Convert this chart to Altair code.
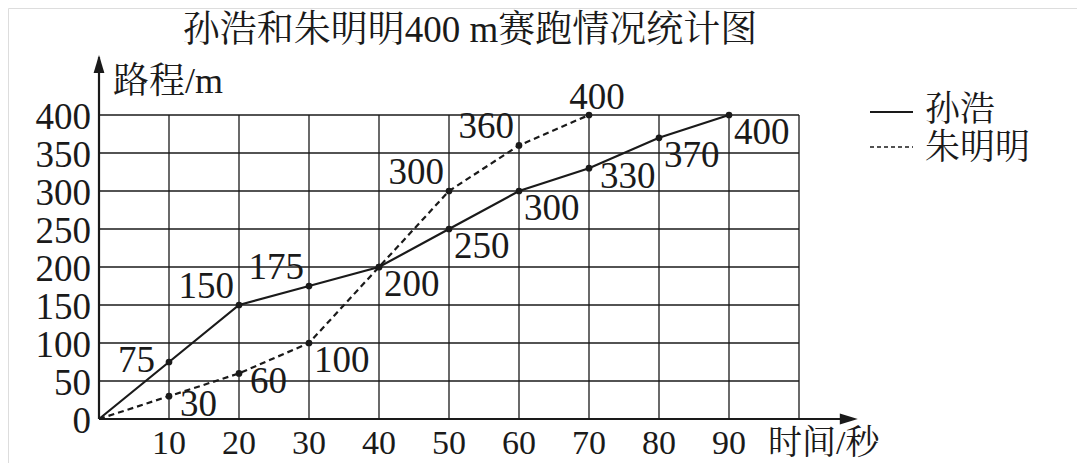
import altair as alt
import pandas as pd

# ---- data ----
sun_times = [0, 10, 20, 30, 40, 50, 60, 70, 80, 90]
sun_dist = [0, 75, 150, 175, 200, 250, 300, 330, 370, 400]
zhu_times = [0, 10, 20, 30, 40, 50, 60, 70]
zhu_dist = [0, 30, 60, 100, 200, 300, 360, 400]
x_ticks = [10, 20, 30, 40, 50, 60, 70, 80, 90]
y_ticks = [0, 50, 100, 150, 200, 250, 300, 350, 400]
grid_x = [10, 20, 30, 40, 50, 60, 70, 80, 90, 100]
grid_y = [50, 100, 150, 200, 250, 300, 350, 400]
x_grid_max = 100
y_grid_max = 400
x_axis_end = 108.4
y_axis_end = 479

title_text = "孙浩和朱明明400 m赛跑情况统计图"
y_title = "路程/m"
x_title = "时间/秒"
series_names = ["孙浩", "朱明明"]

# label placement keys (layout, per point)
sun_place = ["", "l", "ul", "ul", "lr", "lr", "lr", "lr2", "lr", "lr"]
zhu_place = ["", "lr2", "lr2", "lr", "", "ul", "ul", "up"]

# ---- layout ----
W, H = 1069, 455
x0_px, px_per_x = 91, 7.0
y0_px, px_per_y = 411, 0.76
xmin = -x0_px / px_per_x
xmax = xmin + W / px_per_x
ymax = y0_px / px_per_y
ymin = ymax - H / px_per_y
xs = alt.Scale(domain=[xmin, xmax], nice=False, zero=False)
ys = alt.Scale(domain=[ymin, ymax], nice=False, zero=False)

FONT = "Liberation Serif, Noto Serif CJK SC, Noto Sans CJK SC"
INK = "#1a1a1a"
NUM_SIZE = 37

def X(f):
    return alt.X(f, type="quantitative", scale=xs, axis=None)

def Y(f):
    return alt.Y(f, type="quantitative", scale=ys, axis=None)

vgrid = pd.DataFrame({"x": grid_x, "y0": [0] * len(grid_x), "y1": [y_grid_max] * len(grid_x)})
hgrid = pd.DataFrame({"y": grid_y, "x0": [0] * len(grid_y), "x1": [x_grid_max] * len(grid_y)})

layers = []
layers.append(alt.Chart(vgrid).mark_rule(color=INK, strokeWidth=1.3).encode(
    x=X("x"), y=Y("y0"), y2="y1"))
layers.append(alt.Chart(hgrid).mark_rule(color=INK, strokeWidth=1.3).encode(
    y=Y("y"), x=X("x0"), x2="x1"))

# axes
xaxis = pd.DataFrame({"x0": [0], "x1": [x_axis_end - 2], "y": [0]})
yaxis = pd.DataFrame({"y0": [0], "y1": [y_axis_end - 3], "x": [0]})
layers.append(alt.Chart(xaxis).mark_rule(color=INK, strokeWidth=2.2).encode(
    x=X("x0"), x2="x1", y=Y("y")))
layers.append(alt.Chart(yaxis).mark_rule(color=INK, strokeWidth=2.2).encode(
    y=Y("y0"), y2="y1", x=X("x")))
layers.append(alt.Chart(pd.DataFrame({"x": [x_axis_end], "y": [0]})).mark_point(
    shape="M -2 -0.6 L 0 0 L -2 0.6 Z", filled=True, color=INK, size=324, opacity=1).encode(
    x=X("x"), y=Y("y")))
layers.append(alt.Chart(pd.DataFrame({"x": [0], "y": [y_axis_end]})).mark_point(
    shape="M -0.6 2 L 0 0 L 0.6 2 Z", filled=True, color=INK, size=324, opacity=1).encode(
    x=X("x"), y=Y("y")))

sun = pd.DataFrame({"t": sun_times, "d": sun_dist, "p": sun_place})
zhu = pd.DataFrame({"t": zhu_times, "d": zhu_dist, "p": zhu_place})

layers.append(alt.Chart(sun).mark_line(color=INK, strokeWidth=2.2).encode(
    x=X("t"), y=Y("d"), order="t:Q"))
layers.append(alt.Chart(zhu).mark_line(color=INK, strokeWidth=2.2, strokeDash=[6, 4]).encode(
    x=X("t"), y=Y("d"), order="t:Q"))
layers.append(alt.Chart(sun[sun.t > 0]).mark_circle(color=INK, size=45, opacity=1).encode(
    x=X("t"), y=Y("d")))
layers.append(alt.Chart(zhu[zhu.t > 0]).mark_circle(color=INK, size=45, opacity=1).encode(
    x=X("t"), y=Y("d")))

placements = {
    "lr": dict(dx=5, dy=18, align="left"),
    "lr2": dict(dx=11, dy=9, align="left"),
    "ul": dict(dx=-5, dy=-18, align="right"),
    "l": dict(dx=-14, dy=-1, align="right"),
    "up": dict(dx=8, dy=-17, align="center"),
}
labels = pd.concat([sun, zhu], ignore_index=True)
labels["txt"] = labels["d"].astype(str)
for key, opts in placements.items():
    sub = labels[labels.p == key]
    layers.append(alt.Chart(sub).mark_text(
        font=FONT, fontSize=NUM_SIZE, color=INK, baseline="middle", **opts).encode(
        x=X("t"), y=Y("d"), text="txt:N"))

# tick labels
xt = pd.DataFrame({"x": x_ticks, "y": [0] * len(x_ticks), "txt": [str(v) for v in x_ticks]})
yt = pd.DataFrame({"y": y_ticks, "x": [0] * len(y_ticks), "txt": [str(v) for v in y_ticks]})
layers.append(alt.Chart(xt).mark_text(font=FONT, fontSize=34, color=INK, baseline="middle",
                                      align="center", dy=25).encode(
    x=X("x"), y=Y("y"), text="txt:N"))
layers.append(alt.Chart(yt).mark_text(font=FONT, fontSize=NUM_SIZE, color=INK, baseline="middle",
                                      align="right", dx=-8, dy=3).encode(
    x=X("x"), y=Y("y"), text="txt:N"))

# titles
one = pd.DataFrame({"a": [0]})
def label(text, x, y, size, align="center"):
    return alt.Chart(one).mark_text(font=FONT, fontSize=size, color=INK, baseline="middle",
                                    align=align, text=text).encode(
        x=alt.value(x), y=alt.value(y))

layers.append(label(title_text, 462, 23, 37))
layers.append(label(y_title, 105, 74, 36, "left"))
layers.append(label(x_title, 760, 436, 34, "left"))

# legend
layers.append(alt.Chart(one).mark_rule(color=INK, strokeWidth=2).encode(
    x=alt.value(862), x2=alt.value(905), y=alt.value(104)))
layers.append(alt.Chart(one).mark_rule(color=INK, strokeWidth=1.6, strokeDash=[4, 3]).encode(
    x=alt.value(862), x2=alt.value(905), y=alt.value(139)))
layers.append(label(series_names[0], 917, 102, 35, "left"))
layers.append(label(series_names[1], 917, 140, 35, "left"))

chart = alt.layer(*layers).properties(
    width=W, height=H, autosize=alt.AutoSizeParams(type="none"), padding=0
).configure_view(stroke=None).configure(background="white")

chart.save("out.html", embed_options={"renderer": "svg", "actions": False})
